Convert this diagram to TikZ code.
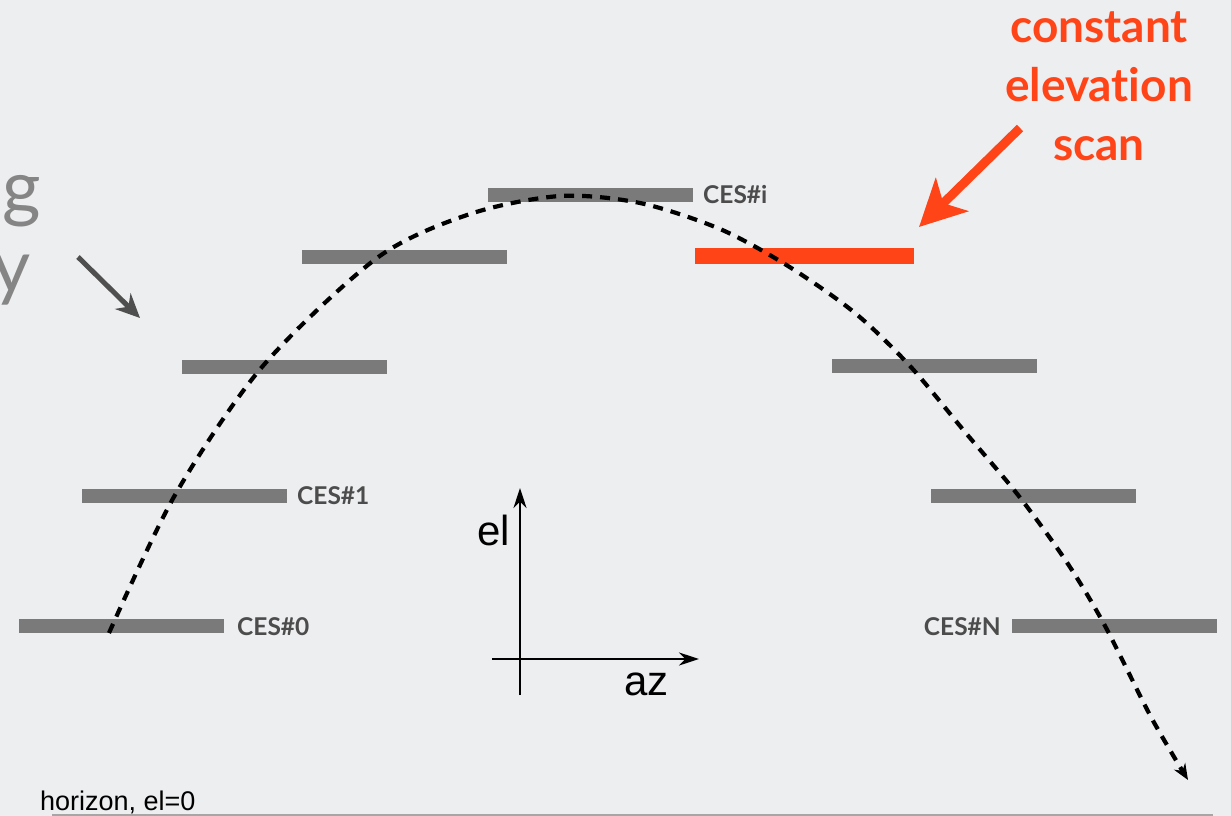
\documentclass[tikz,border=0pt]{standalone}
\usepackage{fontspec}
\setmainfont{Liberation Sans}
\newfontfamily\gill[Ligatures=NoCommon]{Lato}
\usetikzlibrary{arrows.meta}
\definecolor{bgc}{HTML}{EDEEF0}
\definecolor{barc}{HTML}{7A7A7A}
\definecolor{labc}{HTML}{4C4C4C}
\definecolor{redc}{HTML}{FF4418}
\definecolor{darkarrow}{HTML}{4F4F4F}
\definecolor{bigc}{HTML}{858585}
\tikzset{
  bar/.style={fill=barc, draw=none, inner sep=0pt, minimum height=14pt, minimum width=205pt},
  redbar/.style={fill=redc, draw=none, inner sep=0pt, minimum height=16pt, minimum width=219pt},
  ceslabel/.style={inner sep=0pt, text=labc, font=\gill\bfseries\fontsize{24.5}{26}\selectfont},
  axislabel/.style={inner sep=0pt, text=black, font=\fontsize{42}{44}\selectfont},
  axisline/.style={line width=2.6pt, black, -{Stealth[length=20pt,width=13pt]}},
  trajectory/.style={line width=4.2pt, black, dash pattern=on 10pt off 8pt, -{Stealth[length=16pt,width=13pt]}},
  bigtext/.style={inner sep=0pt, text=bigc, font=\gill\fontsize{74}{79}\selectfont},
}
\begin{document}
\begin{tikzpicture}[x=1pt,y=-1pt]
\fill[bgc] (0,0) rectangle (1231,816);
\useasboundingbox (0,0) rectangle (1231,816);
\begin{scope}
\clip (0,0) rectangle (1231,816);
\node[bigtext, anchor=base east] (t1) at (41,213) {ng};
\node[bigtext, anchor=base east] (t2) at (31,292) {gy};
\end{scope}
% gray arrow
\coordinate (ga1) at (78,257);
\coordinate (ga2) at (140,318);
\draw[darkarrow, line width=5pt, -{Stealth[length=24pt,width=22pt]}] (ga1) -- (ga2);
% bars
\node[bar] (b0) at (121,625.5) {};
\node[bar] (b1) at (184,495.5) {};
\node[bar] (b2) at (284,366.5) {};
\node[bar] (b3) at (404,256.5) {};
\node[bar] (bi) at (590.5,194.5) {};
\node[redbar] (br) at (804.5,256) {};
\node[bar] (b5) at (934,365.5) {};
\node[bar] (b6) at (1033,495.5) {};
\node[bar] (bn) at (1114,625.5) {};
\node[ceslabel, anchor=west] (l0) at (237,627) {CES\#0};
\node[ceslabel, anchor=west] (l1) at (297,496) {CES\#1};
\node[ceslabel, anchor=west] (li) at (703,195) {CES\#i};
\node[ceslabel, anchor=east] (ln) at (1001,627) {CES\#N};
% trajectory
\draw[trajectory] plot[smooth, tension=0.5] coordinates {(109,633) (175,495) (262,367) (377,258) (470,214) (560,196) (640,203) (720,229) (788,266) (855,313) (910,366) (965,432) (1018,495) (1066,561) (1104,624) (1151,717) (1188,780)};
% axes
\coordinate (o) at (520,659);
\coordinate (yb) at (520,695);
\coordinate (yt) at (520,488);
\coordinate (xl) at (492,659);
\coordinate (xr) at (699,659);
\draw[axisline] (yb) -- (yt);
\draw[axisline] (xl) -- (xr);
\node[axislabel, anchor=base east] (el) at (510,545) {el};
\node[axislabel, anchor=base west] (az) at (624,695) {az};
% red annotation
\node[inner sep=0pt, text=redc, font=\gill\bfseries\fontsize{46}{59}\selectfont, align=center, anchor=north] (ctext) at (1099,11) {constant\\elevation\\scan};
\coordinate (ra1) at (1020,128);
\coordinate (ra2) at (919,227);
\draw[redc, line width=9pt, -{Stealth[length=46pt,width=46pt,inset=12pt]}] (ra1) -- (ra2);
% horizon
\node[inner sep=0pt, anchor=base west, font=\fontsize{27}{29}\selectfont] (hz) at (40,810) {horizon, el=0};
\coordinate (h1) at (52,814.5);
\coordinate (h2) at (1213,814.5);
\draw[gray!70, line width=2pt] (h1) -- (h2);
\end{tikzpicture}
\end{document}
